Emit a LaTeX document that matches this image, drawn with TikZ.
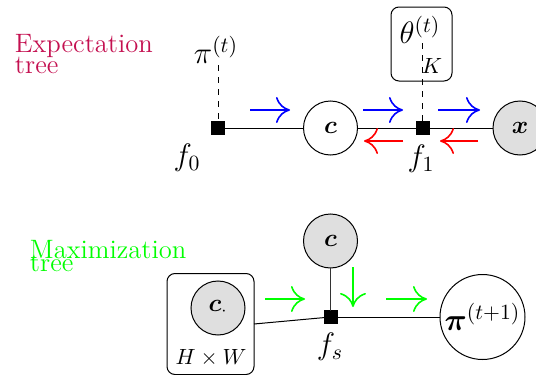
\documentclass[tikz,border=0pt]{standalone}
\usepackage{fix-cm}
\usepackage{amsmath,bm}
\usetikzlibrary{arrows.meta}
\definecolor{etree}{RGB}{196,16,80}
\definecolor{mtree}{RGB}{0,255,0}
\begin{document}
\begin{tikzpicture}[x=0.5pt,y=-0.5pt,
  every node/.style={inner sep=0pt,outer sep=0pt},
  fac/.style={draw,fill=black,minimum size=6.5pt},
  var/.style={draw,circle,line width=0.5pt,minimum size=27pt,font=\fontsize{12.5}{14}\selectfont},
  obs/.style={var,fill=gray!25},
  plate/.style={draw,rounded corners=4pt,line width=0.5pt},
  mlab/.style={font=\fontsize{15.5}{18}\selectfont},
  slab/.style={font=\fontsize{11}{13}\selectfont},
  ttext/.style={anchor=base west,font=\fontsize{13.3}{13}\selectfont},
  edge/.style={line width=0.5pt},
  msg/.style={line width=0.8pt,-{To[length=7pt,width=13pt]}}
]
\useasboundingbox (0,0) rectangle (536,375);
% titles
\node[ttext,text=etree] (et1) at (15,52.7) {Expectation};
\node[ttext,text=etree] (et2) at (15,73) {tree};
\node[ttext,text=mtree] (mt1) at (30,258) {Maximization};
\node[ttext,text=mtree] (mt2) at (30,271) {tree};
% top tree
\node[plate,minimum width=30.5pt,minimum height=37pt] (thplate) at (421.5,44) {};
\node[mlab] (theta) at (420,30) {$\theta^{(t)}$};
\node[slab] (K) at (432,66) {$K$};
\coordinate (thtop) at (422.5,43);
\node[fac] (f0) at (218,128) {};
\node[var] (c1) at (330.5,128) {$\bm{c}$};
\node[fac] (f1) at (422.5,128) {};
\node[obs] (xx) at (520,128) {$\bm{x}$};
\node[mlab] (pit) at (216,50) {$\pi^{(t)}$};
\coordinate (pitb) at (218,65);
\node[mlab] (f0l) at (187,158) {$f_0$};
\node[mlab] (f1l) at (421,159) {$f_1$};
\draw[edge] (f0) -- (c1) -- (f1) -- (xx);
\draw[edge,dashed] (pitb) -- (f0);
\draw[edge,dashed] (thtop) -- (f1);
% messages top
\draw[msg,blue] (250,110) -- (290,110);
\draw[msg,blue] (363,110) -- (403,110);
\draw[msg,blue] (438,110) -- (480,110);
\draw[msg,red] (403,141) -- (364,141);
\draw[msg,red] (478,141) -- (440,141);
% bottom tree
\node[plate,minimum width=43.5pt,minimum height=50.5pt] (plate2) at (210.5,324) {};
\node[obs] (cdot) at (218,308) {$\bm{c}_{\cdot}$};
\node[slab] (HW) at (211,358) {$H\times W$};
\node[obs] (c2) at (330.5,241) {$\bm{c}$};
\node[fac] (fs) at (330.5,317) {};
\node[var,minimum size=42.5pt,font=\fontsize{15.5}{18}\selectfont] (pi2) at (482.5,317) {$\bm{\pi}^{(t+1)}$};
\node[mlab] (fsl) at (330,347) {$f_s$};
\draw[edge] (plate2.east) -- (fs);
\draw[edge,black!80] (c2) -- (fs);
\draw[edge] (fs) -- (pi2);
% messages bottom
\draw[msg,mtree] (265,299) -- (305,299);
\draw[msg,mtree] (353,267) -- (353,307);
\draw[msg,mtree] (386,299) -- (427,299);
\end{tikzpicture}
\end{document}
